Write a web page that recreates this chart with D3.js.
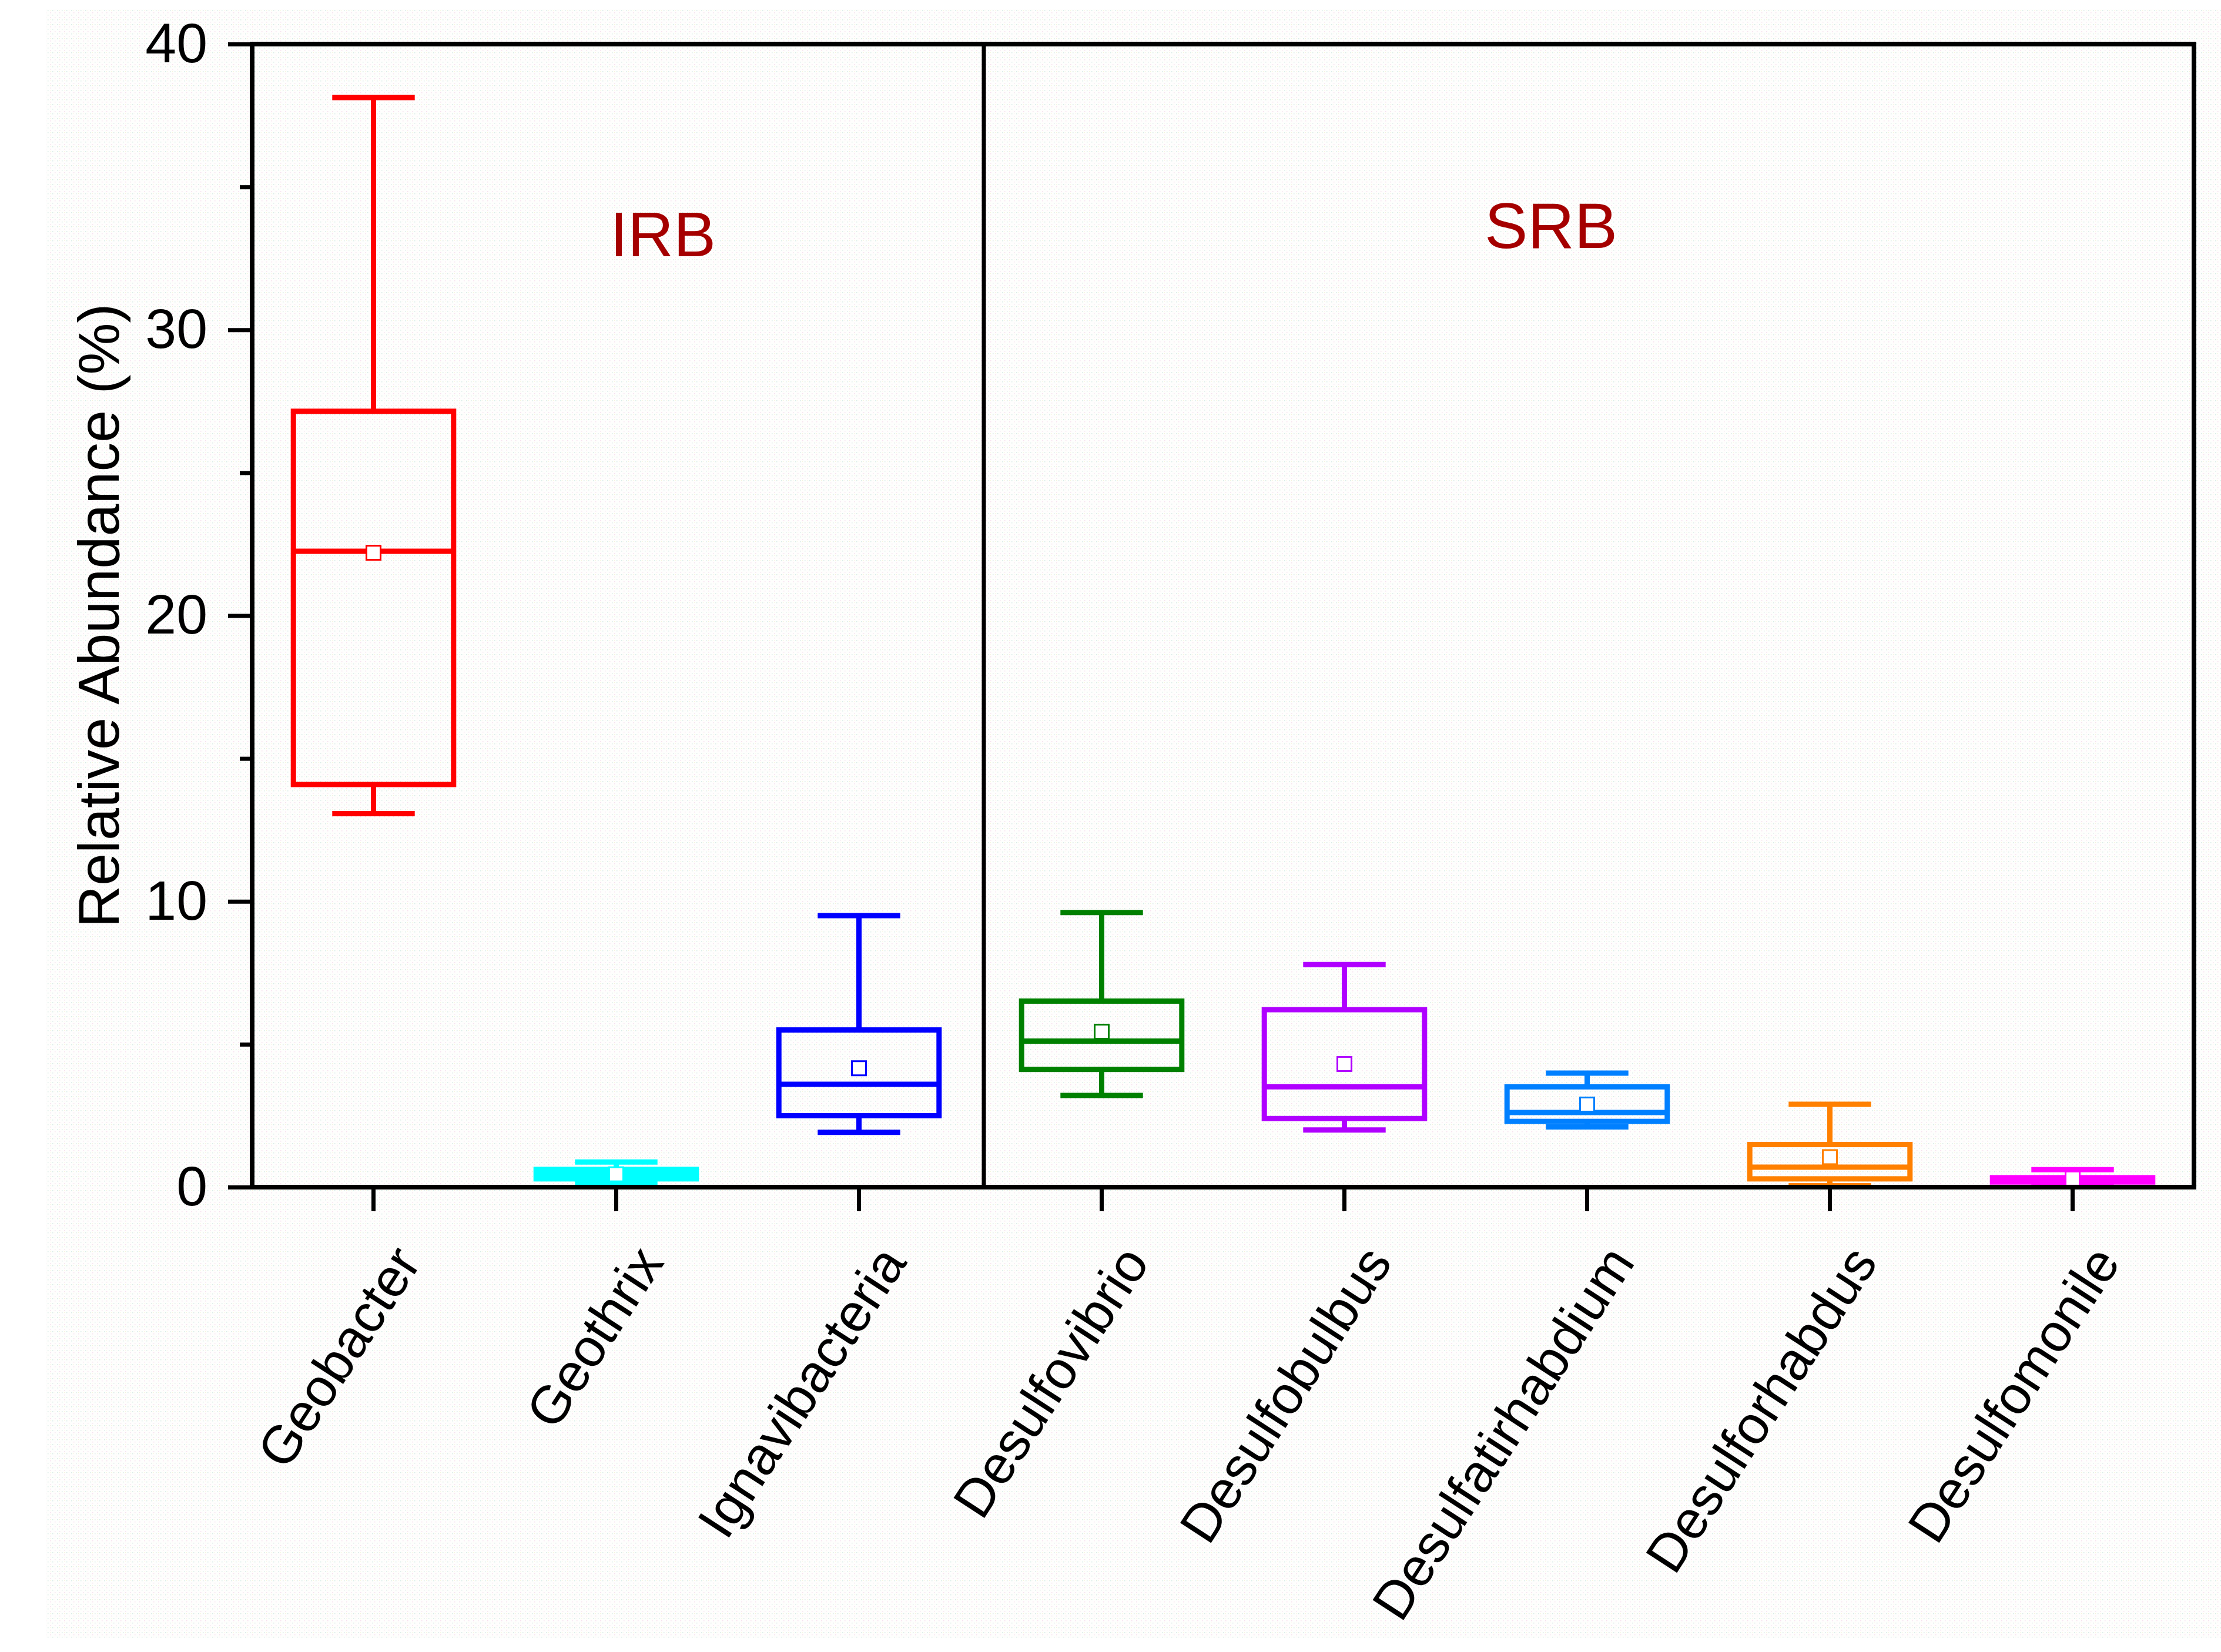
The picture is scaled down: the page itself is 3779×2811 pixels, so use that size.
<!DOCTYPE html>
<html>
<head>
<meta charset="utf-8">
<script src="https://cdn.jsdelivr.net/npm/d3@7"></script>
<style>
  html, body { margin: 0; padding: 0; background: #ffffff; }
  svg { display: block; }
  text { font-family: "Liberation Sans", Arial, Helvetica, sans-serif; }
</style>
</head>
<body>
<svg id="chart" width="3779" height="2811"></svg>
<script>
// ---- data ----
const categories = ["Geobacter", "Geothrix", "Ignavibacteria", "Desulfovibrio",
                    "Desulfobulbus", "Desulfatirhabdium", "Desulforhabdus", "Desulfomonile"];
const colors     = ["#ff0000", "#00ffff", "#0000ff", "#008000",
                    "#b000ff", "#0080ff", "#ff8000", "#ff00ff"];
const mins    = [13.07, 0.12, 1.92, 3.21, 2.00, 2.11, 0.05, 0.05];
const q1s     = [14.09, 0.29, 2.50, 4.12, 2.40, 2.30, 0.29, 0.18];
const medians = [22.25, 0.45, 3.60, 5.11, 3.51, 2.61, 0.70, 0.25];
const q3s     = [27.15, 0.62, 5.50, 6.51, 6.21, 3.51, 1.49, 0.33];
const maxs    = [38.13, 0.88, 9.50, 9.61, 7.79, 3.99, 2.90, 0.61];
const means   = [22.20, 0.45, 4.16, 5.44, 4.31, 2.89, 1.05, 0.30];
const yMajorTicks = [0, 10, 20, 30, 40];
const yMinorTicks = [5, 15, 25, 35];
const groupLabels = ["IRB", "SRB"];
const yTitle = "Relative Abundance (%)";

// ---- layout ----
const W = 3779, H = 2811;
const pLeft = 429, pRight = 3733, pTop = 75, pBottom = 2020;
const svg = d3.select("#chart");

// background dotted paper
const defs = svg.append("defs");
const pat = defs.append("pattern").attr("id", "dots")
  .attr("width", 8).attr("height", 8).attr("patternUnits", "userSpaceOnUse");
pat.append("rect").attr("width", 8).attr("height", 8).attr("fill", "#fefefd");
pat.append("rect").attr("x", 1).attr("y", 1).attr("width", 1.5).attr("height", 1.5).attr("fill", "#d6ebe6");
pat.append("rect").attr("x", 5).attr("y", 5).attr("width", 1.5).attr("height", 1.5).attr("fill", "#f6deee");
pat.append("rect").attr("x", 5).attr("y", 1).attr("width", 1).attr("height", 1).attr("fill", "#f3f3d8");
svg.append("rect").attr("x", 0).attr("y", 0).attr("width", W).attr("height", H).attr("fill", "#ffffff");
svg.append("rect").attr("x", 78).attr("y", 15).attr("width", W - 78).attr("height", 2787 - 15)
  .attr("fill", "url(#dots)");

const x = d3.scaleBand().domain(categories).range([pLeft, pRight]).padding(0);
const y = d3.scaleLinear().domain([0, 40]).range([pBottom, pTop]);
const bw = x.bandwidth();
const boxW = bw * 0.66;
const capW = bw * 0.34;

// ---- y axis ----
const yAxis = d3.axisLeft(y).tickValues(yMajorTicks).tickSize(41).tickPadding(35)
  .tickFormat(d3.format("d"));
const gy = svg.append("g").attr("transform", `translate(${pLeft},0)`).call(yAxis);
gy.select(".domain").remove();
gy.selectAll(".tick line").attr("stroke", "#000").attr("stroke-width", 7);
gy.selectAll(".tick text").attr("font-size", 95).attr("fill", "#000")
  .attr("font-family", "'Liberation Sans', Arial, sans-serif");

const gyMinor = svg.append("g").attr("transform", `translate(${pLeft},0)`)
  .call(d3.axisLeft(y).tickValues(yMinorTicks).tickSize(21).tickFormat(""));
gyMinor.select(".domain").remove();
gyMinor.selectAll(".tick line").attr("stroke", "#000").attr("stroke-width", 7);

// ---- x axis ----
const gx = svg.append("g").attr("transform", `translate(0,${pBottom})`)
  .call(d3.axisBottom(x).tickSize(41).tickFormat(""));
gx.select(".domain").remove();
gx.selectAll(".tick line").attr("stroke", "#000").attr("stroke-width", 7);

svg.append("g").selectAll("text").data(categories).join("text")
  .attr("text-anchor", "end")
  .attr("font-size", 91)
  .attr("fill", "#000")
  .attr("transform", d => `translate(${x(d) + bw / 2 + 83},${pBottom + 128}) rotate(-57)`)
  .text(d => d);

// y title
svg.append("text")
  .attr("transform", `translate(202,${(pTop + pBottom) / 2}) rotate(-90)`)
  .attr("text-anchor", "middle")
  .attr("font-size", 99)
  .attr("fill", "#000")
  .text(yTitle);

// ---- boxes ----
const data = categories.map((c, i) => ({
  c, color: colors[i], min: mins[i], q1: q1s[i], med: medians[i], q3: q3s[i], max: maxs[i], mean: means[i]
}));
const sw = 9;
const gb = svg.append("g");
const g = gb.selectAll("g").data(data).join("g");
const cx = d => x(d.c) + bw / 2;

// whiskers
g.append("line").attr("x1", cx).attr("x2", cx).attr("y1", d => y(d.q3)).attr("y2", d => y(d.max))
  .attr("stroke", d => d.color).attr("stroke-width", sw);
g.append("line").attr("x1", cx).attr("x2", cx).attr("y1", d => y(d.q1)).attr("y2", d => y(d.min))
  .attr("stroke", d => d.color).attr("stroke-width", sw);
// caps
g.append("line").attr("x1", d => cx(d) - capW / 2).attr("x2", d => cx(d) + capW / 2)
  .attr("y1", d => y(d.max)).attr("y2", d => y(d.max))
  .attr("stroke", d => d.color).attr("stroke-width", sw);
g.append("line").attr("x1", d => cx(d) - capW / 2).attr("x2", d => cx(d) + capW / 2)
  .attr("y1", d => y(d.min)).attr("y2", d => y(d.min))
  .attr("stroke", d => d.color).attr("stroke-width", sw);
// box
g.append("rect").attr("x", d => cx(d) - boxW / 2).attr("width", boxW)
  .attr("y", d => y(d.q3)).attr("height", d => y(d.q1) - y(d.q3))
  .attr("fill", "none").attr("stroke", d => d.color).attr("stroke-width", sw);
// median
g.append("line").attr("x1", d => cx(d) - boxW / 2).attr("x2", d => cx(d) + boxW / 2)
  .attr("y1", d => y(d.med)).attr("y2", d => y(d.med))
  .attr("stroke", d => d.color).attr("stroke-width", sw);
// mean marker
const ms = 24;
g.append("rect").attr("x", d => cx(d) - ms / 2).attr("y", d => y(d.mean) - ms / 2)
  .attr("width", ms).attr("height", ms)
  .attr("fill", "#ffffff").attr("stroke", d => d.color).attr("stroke-width", 3);

// ---- frame & divider ----
svg.append("rect").attr("x", pLeft).attr("y", pTop).attr("width", pRight - pLeft).attr("height", pBottom - pTop)
  .attr("fill", "none").attr("stroke", "#000").attr("stroke-width", 8);
const divX = x(categories[3]) + 6;
svg.append("line").attr("x1", divX).attr("x2", divX).attr("y1", pTop).attr("y2", pBottom)
  .attr("stroke", "#000").attr("stroke-width", 7);

// group labels
svg.append("text").attr("x", 1128).attr("y", 436).attr("text-anchor", "middle")
  .attr("font-size", 108).attr("fill", "#a50000").text(groupLabels[0]);
svg.append("text").attr("x", 2639).attr("y", 422).attr("text-anchor", "middle")
  .attr("font-size", 110).attr("fill", "#a50000").text(groupLabels[1]);
</script>
</body>
</html>
